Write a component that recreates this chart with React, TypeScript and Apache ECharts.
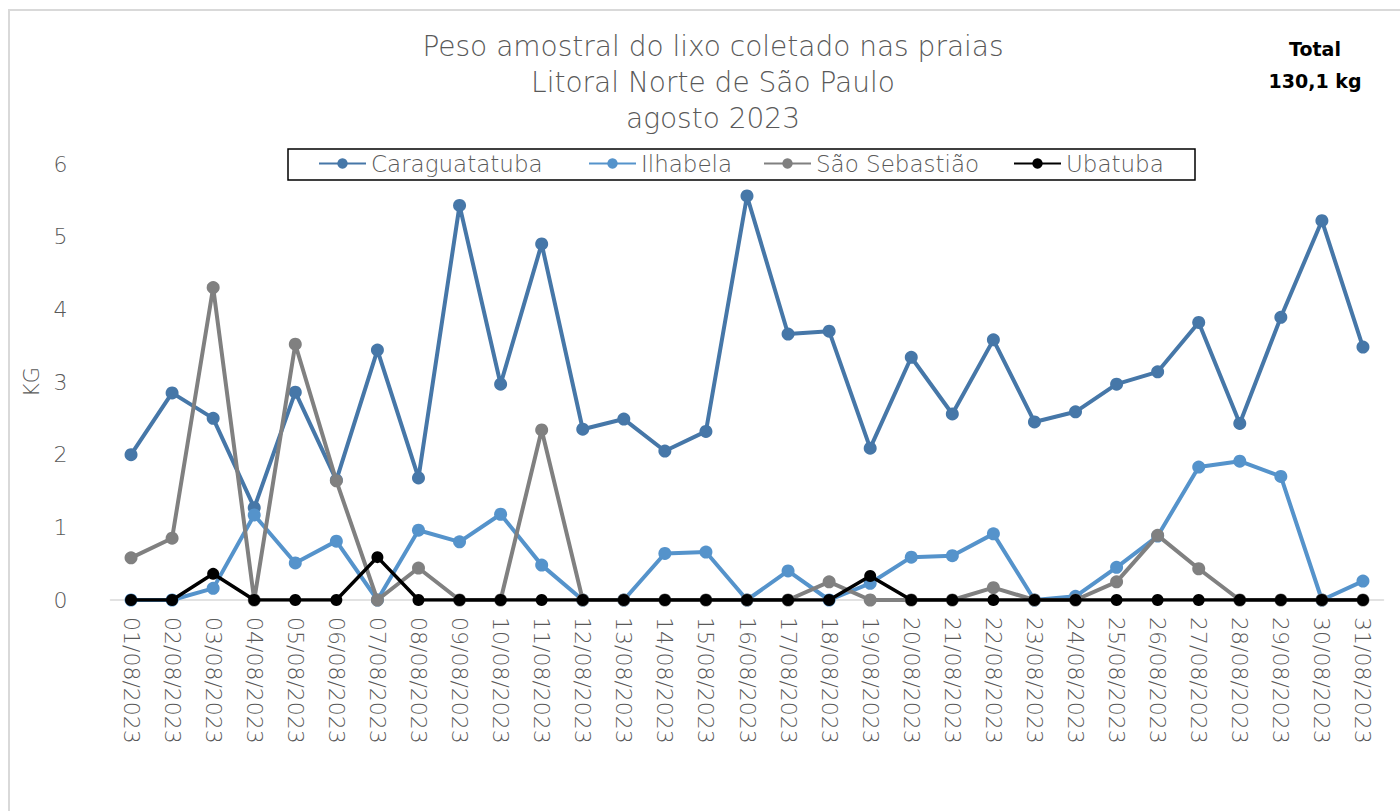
import React, { useEffect, useRef } from "react";
import * as echarts from "echarts";

const categories = [
  "01/08/2023","02/08/2023","03/08/2023","04/08/2023","05/08/2023","06/08/2023","07/08/2023","08/08/2023",
  "09/08/2023","10/08/2023","11/08/2023","12/08/2023","13/08/2023","14/08/2023","15/08/2023","16/08/2023",
  "17/08/2023","18/08/2023","19/08/2023","20/08/2023","21/08/2023","22/08/2023","23/08/2023","24/08/2023",
  "25/08/2023","26/08/2023","27/08/2023","28/08/2023","29/08/2023","30/08/2023","31/08/2023",
];

const caraguatatuba = [2.0,2.85,2.5,1.27,2.86,1.65,3.44,1.68,5.43,2.97,4.9,2.35,2.49,2.05,2.32,5.56,3.66,3.7,2.09,3.34,2.56,3.58,2.45,2.59,2.97,3.14,3.82,2.43,3.89,5.22,3.48];
const ilhabela = [0,0,0.16,1.17,0.51,0.81,0,0.96,0.8,1.18,0.48,0,0,0.64,0.66,0,0.4,0,0.23,0.59,0.61,0.91,0,0.05,0.45,0.88,1.83,1.91,1.7,0,0.26];
const saoSebastiao = [0.58,0.85,4.3,0,3.52,1.64,0,0.44,0,0,2.34,0,0,0,0,0,0,0.25,0,0,0,0.17,0,0,0.25,0.89,0.43,0,0,0,0];
const ubatuba = [0,0,0.36,0,0,0,0.59,0,0,0,0,0,0,0,0,0,0,0,0.33,0,0,0,0,0,0,0,0,0,0,0,0];

const seriesNames = ["Caraguatatuba", "Ilhabela", "São Sebastião", "Ubatuba"];
const seriesColors = ["#4677a8", "#5593cb", "#808080", "#000000"];
const seriesData = [caraguatatuba, ilhabela, saoSebastiao, ubatuba];
const yTicks = [0, 1, 2, 3, 4, 5, 6];
const titleLines = ["Peso amostral do lixo coletado nas praias", "Litoral Norte de São Paulo", "agosto 2023"];
const totalLines = ["Total", "130,1 kg"];

const FONT = "'DejaVu Sans', 'Noto Sans', sans-serif";
const GRAY = "#595959";

export default function App() {
  const ref = useRef<HTMLDivElement>(null);
  useEffect(() => {
    if (!ref.current) return;
    const chart = echarts.init(ref.current, null, { renderer: "svg" });
    const legendLefts = [318, 588, 763, 1013];
    chart.setOption({
      animation: false,
      backgroundColor: "#ffffff",
      textStyle: { fontFamily: FONT },
      title: [
        {
          text: titleLines.join("\n"),
          left: 708,
          top: 23,
          textAlign: "center",
          textStyle: { fontFamily: FONT, fontSize: 28, fontWeight: 200, color: GRAY, lineHeight: 36 },
        },
        {
          text: totalLines.join("\n"),
          left: 1310,
          top: 28,
          textAlign: "center",
          textStyle: { fontFamily: FONT, fontSize: 19, fontWeight: "bold", color: "#000000", lineHeight: 32 },
        },
      ],
      legend: seriesNames.map((n, i) => ({
        data: [n],
        left: legendLefts[i],
        top: 152,
        itemWidth: 47,
        itemHeight: 13,
        itemGap: 4,
        padding: 0,
        textStyle: { fontFamily: FONT, fontSize: 23, color: GRAY, fontWeight: 200 },
      })),
      graphic: [
        {
          type: "rect",
          shape: { x: 9, y: 10, width: 1420, height: 840 },
          style: { fill: "none", stroke: "#d9d9d9", lineWidth: 2 },
          silent: true,
        },
        {
          type: "rect",
          shape: { x: 288, y: 149, width: 907, height: 31 },
          style: { fill: "none", stroke: "#000000", lineWidth: 1.5 },
          silent: true,
        },
      ],
      grid: { left: 110.5, top: 164, width: 1273, height: 436, containLabel: false },
      xAxis: {
        type: "category",
        data: categories,
        boundaryGap: true,
        axisLine: { lineStyle: { color: "#d9d9d9", width: 1.5 } },
        axisTick: { show: false },
        axisLabel: {
          rotate: -90,
          interval: 0,
          margin: 17,
          color: GRAY,
          fontSize: 22,
          fontFamily: FONT,
          fontWeight: 200,
        },
      },
      yAxis: {
        type: "value",
        min: yTicks[0],
        max: yTicks[yTicks.length - 1],
        interval: 1,
        name: "KG",
        nameLocation: "middle",
        nameGap: 58,
        nameTextStyle: { color: GRAY, fontSize: 21, fontFamily: FONT, fontWeight: 200 },
        axisLine: { show: false },
        axisTick: { show: false },
        splitLine: { show: false },
        axisLabel: { color: GRAY, fontSize: 22, margin: 43, fontFamily: FONT, fontWeight: 200 },
      },
      series: seriesNames.map((n, i) => ({
        name: n,
        type: "line",
        data: seriesData[i],
        color: seriesColors[i],
        symbol: "circle",
        symbolSize: i === 3 ? 12 : 13,
        lineStyle: { width: i === 3 ? 3.5 : 4, color: seriesColors[i] },
        itemStyle: { color: seriesColors[i] },
        z: 2 + i,
      })),
    });
    return () => chart.dispose();
  }, []);
  return (
    <div
      ref={ref}
      style={{ position: "fixed", left: 0, top: 0, width: 1400, height: 811 }}
    />
  );
}
